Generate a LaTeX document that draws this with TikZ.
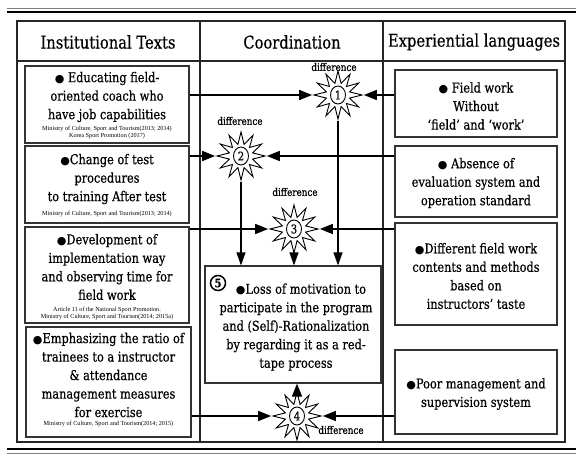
\documentclass[tikz,border=0pt]{standalone}
\usepackage{fontspec}
\setmainfont{DejaVu Serif}[FakeStretch=0.84,FakeBold=0.5]
\newfontfamily\citefont{Liberation Serif}
\newfontfamily\symf{DejaVu Sans}
\usetikzlibrary{shapes.geometric,arrows.meta}
\newcommand{\bul}{{\symf\fontsize{11}{11}\selectfont ●}}
\begin{document}
\begin{tikzpicture}[x=1pt,y=-1pt,
  hdr/.style={font=\fontsize{17.5}{20}\selectfont},
  body/.style={font=\fontsize{13.5}{18.5}\selectfont, align=center, inner sep=0},
  cite/.style={font=\citefont\fontsize{6.2}{7.2}\selectfont, align=center, inner sep=0},
  box/.style={draw=black!80, line width=1.2pt, inner sep=0},
  grid/.style={draw=black!85, line width=1.1pt},
  arr/.style={-{Triangle[length=13pt,width=10pt]}, line width=1.6pt},
  varr/.style={-{Triangle[length=13pt,width=9pt]}, line width=1.2pt},
  burst/.style={star, star points=12, star point ratio=2.0, minimum size=48pt, draw, line width=0.9pt, fill=white, inner sep=0},
  num/.style={ellipse, draw, line width=0.9pt, minimum width=15pt, minimum height=18pt, inner sep=0, font=\fontsize{12}{12}\selectfont},
  diff/.style={font=\fontsize{10.5}{11}\selectfont, inner sep=0}]
\useasboundingbox (0,0) rectangle (582,460);
% double rules
\draw[gray, line width=0.8pt] (7,8.5) -- (576,8.5);
\draw[black, line width=1.2pt] (7,12) -- (576,12);
\draw[black, line width=1.2pt] (7,449) -- (576,449);
\draw[gray, line width=0.8pt] (7,453) -- (576,453);
% table
\draw[grid] (17,21) rectangle (565,442);
\draw[grid] (17,61) -- (565,61);
\draw[grid] (200,21) -- (200,442);
\draw[grid] (383,21) -- (383,442);
\node[hdr] (h1) at (108,42) {Institutional Texts};
\node[hdr] (h2) at (292,42) {Coordination};
\node[hdr] (h3) at (474,42) {Experiential languages};
% left boxes
\node[box, minimum width=164pt, minimum height=77pt] (b1) at (107,104.5) {};
\node[box, minimum width=164pt, minimum height=77pt] (b2) at (107,184.5) {};
\node[box, minimum width=164pt, minimum height=96pt] (b3) at (107,275) {};
\node[box, minimum width=165pt, minimum height=110pt] (b4) at (108.5,382) {};
\node[body] (t1) at (107,97) {\bul\ Educating field-\\oriented coach who\\have job capabilities};
\node[cite] (c1) at (107,132.5) {Ministry of Culture, Sport and Tourism(2013; 2014)\\Korea Sport Promotion (2017)};
\node[body] (t2) at (107,179) {\bul Change of test\\procedures\\to training After test};
\node[cite] (c2) at (107,214) {Ministry of Culture, Sport and Tourism(2013; 2014)};
\node[body] (t3) at (107,267) {\bul Development of\\implementation way\\and observing time for\\field work};
\node[cite] (c3) at (107,313.5) {Article 11 of the National Sport Promotion.\\Ministry of Culture, Sport and Tourism(2014; 2015a)};
\node[body] (t4) at (108.5,375) {\bul Emphasizing the ratio of\\trainees to a instructor\\\& attendance\\management measures\\for exercise};
\node[cite] (c4) at (108.5,424) {Ministry of Culture, Sport and Tourism(2014; 2015)};
% right boxes
\node[box, minimum width=162pt, minimum height=67pt] (r1) at (476,103.5) {};
\node[box, minimum width=162pt, minimum height=71pt] (r2) at (476,181.5) {};
\node[box, minimum width=162pt, minimum height=102pt] (r3) at (476,274) {};
\node[box, minimum width=162pt, minimum height=84pt] (r4) at (476,392) {};
\node[body] (u1) at (476,106) {\bul\ Field work\\Without\\‘field’ and ‘work’};
\node[body] (u2) at (476,183) {\bul\ Absence of\\evaluation system and\\operation standard};
\node[body] (u3) at (476,276) {\bul Different field work\\contents and methods\\based on\\instructors’ taste};
\node[body] (u4) at (476,394) {\bul Poor management and\\supervision system};
% center box
\node[box, minimum width=176pt, minimum height=117pt] (b5) at (293,324.5) {};
\node[body] (t5) at (296,327) {\hspace*{10pt}\bul Loss of motivation to\\participate in the program\\and (Self)-Rationalization\\by regarding it as a red-\\tape process};
\node[circle, draw, line width=1.5pt, minimum size=15pt, inner sep=0, font=\bfseries\fontsize{12}{12}\selectfont] (n5) at (218,283) {5};
% stars
\node[burst] (s1) at (338,95) {};
\node[burst] (s2) at (241,156) {};
\node[burst] (s3) at (294,229) {};
\node[burst] (s4) at (297,416) {};
\node[num] (k1) at (s1) {1};
\node[num] (k2) at (s2) {2};
\node[num] (k3) at (s3) {3};
\node[num] (k4) at (s4) {4};
\node[diff] (d1) at (334,67) {difference};
\node[diff] (d2) at (240,121) {difference};
\node[diff] (d3) at (295,192) {difference};
\node[diff] (d4) at (341,430) {difference};
% connectors
\draw[arr] (b1.east |- s1) -- (s1.west);
\draw[arr] (r1.west |- s1) -- (s1.east);
\draw[arr] (b2.east |- s2) -- (s2.west);
\draw[arr] (r2.west |- s2) -- (s2.east);
\draw[arr] (b3.east |- s3) -- (s3.west);
\draw[arr] (r3.west |- s3) -- (s3.east);
\draw[arr] (b4.east |- s4) -- (s4.west);
\draw[arr] (r4.west |- s4) -- (s4.east);
\draw[varr] (s1.south) -- (s1 |- b5.north);
\draw[varr] (s2.south) -- (s2 |- b5.north);
\draw[varr] (s3.south) -- (s3 |- b5.north);
\draw[arr] (s4.north) -- (s4 |- b5.south);
\end{tikzpicture}
\end{document}
